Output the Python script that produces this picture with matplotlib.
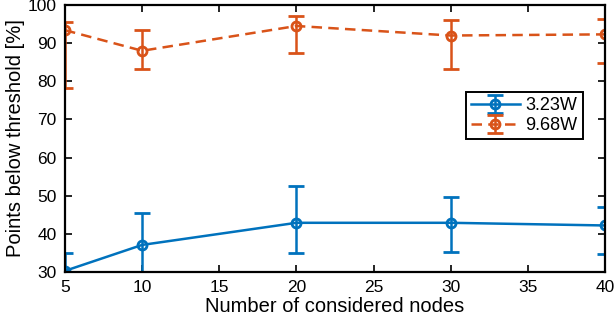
import numpy as np
import matplotlib
matplotlib.use("Agg")
import matplotlib.pyplot as plt

plt.rcParams['font.family'] = ['Liberation Sans', 'DejaVu Sans']

# data
nodes = [5, 10, 20, 30, 40]

low_mean = [30.3, 37.1, 42.9, 42.9, 42.2]
low_lo = [4.6, 8.4, 7.8, 7.7, 7.5]
low_hi = [4.6, 8.4, 9.6, 6.7, 4.9]

high_mean = [93.4, 88.0, 94.5, 92.0, 92.3]
high_lo = [15.1, 4.9, 7.2, 8.8, 7.4]
high_hi = [2.2, 5.5, 2.6, 4.1, 3.9]

labels = ['3.23W', '9.68W']
blue = '#0072BD'
orange = '#D95319'

fig = plt.figure(figsize=(6.14, 3.24), dpi=100)
ax = fig.add_axes([65 / 614, 1 - 272 / 324, 540 / 614, 267 / 324])

ax.errorbar(nodes, low_mean, yerr=[low_lo, low_hi], color=blue, lw=1.8,
            marker='o', ms=6.5, mfc='none', mew=2.0, capsize=6, capthick=1.8,
            elinewidth=1.8, label=labels[0])
ax.errorbar(nodes, high_mean, yerr=[high_lo, high_hi], color=orange, lw=1.8,
            ls='--', dashes=(4.2, 2.5), marker='o', ms=6.5, mfc='none', mew=2.0,
            capsize=6, capthick=1.8, elinewidth=1.8, label=labels[1])

ax.set_xlim(5, 40)
ax.set_ylim(30, 100)
ax.set_xticks([5, 10, 15, 20, 25, 30, 35, 40])
ax.set_yticks(np.arange(30, 101, 10))
ax.tick_params(direction='in', top=True, right=True, length=5, width=1.2,
               labelsize=12.5, pad=6)
for sp in ax.spines.values():
    sp.set_linewidth(1.6)

ax.set_xlabel('Number of considered nodes', fontsize=14.5, labelpad=1)
ax.set_ylabel('Points below threshold [%]', fontsize=14.5, labelpad=2)

leg = ax.legend(loc='upper left', bbox_to_anchor=(0.742, 0.675),
                fontsize=13, fancybox=False, framealpha=1, edgecolor='black',
                handlelength=2.7, borderpad=0.3, labelspacing=0.15,
                handletextpad=0.3, borderaxespad=0)
leg.get_frame().set_linewidth(1.4)

fig.savefig('out.png', dpi=100)
